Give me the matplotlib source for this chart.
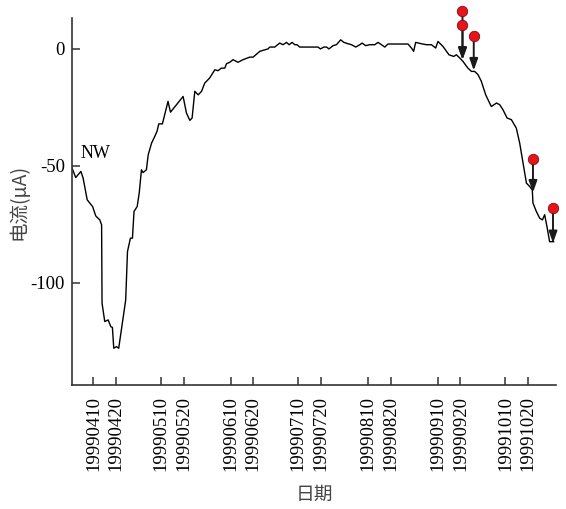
import matplotlib
matplotlib.use("Agg")
import matplotlib.pyplot as plt
import matplotlib.dates as mdates
import datetime as dt

plt.rcParams["axes.unicode_minus"] = False

base = dt.datetime(1999, 4, 10)

# days after 1999-04-10
day_offset = [-9.8, -7.9, -5.6, -4.6, -2.8, -1.6, -0.4, 1.0, 2.8, 3.6, 3.8, 5.0, 6.5, 7.7,
              8.4, 9.0, 10.2, 11.2, 14.3, 15.1, 16.4, 17.3, 18.0, 19.4, 20.3, 21.3, 22.0,
              23.5, 24.3, 25.8, 27.2, 28.2, 29.0, 30.6, 33.1, 34.2, 39.8, 41.3, 42.8, 43.8,
              45.0, 46.5, 48.0, 49.4, 51.6, 53.9, 55.3, 56.8, 58.3, 59.1, 60.5, 62.0, 64.2,
              66.4, 69.4, 70.9, 73.9, 77.5, 78.3, 80.5, 82.7, 84.2, 85.7, 86.9, 88.2, 89.4,
              90.4, 91.6, 99.7, 100.8, 102.3, 103.5, 104.6, 106.4, 107.9, 109.8, 111.2,
              113.1, 114.6, 116.5, 118.3, 119.3, 120.9, 122.7, 124.9, 126.4, 127.9, 129.4,
              130.8, 139.7, 141.2, 142.2, 143.1, 145.7, 147.9, 150.1, 152.0, 153.0, 155.2,
              157.9, 160.0, 161.2, 162.7, 164.1, 166.3, 167.9, 169.3, 170.8, 172.3, 174.2,
              176.7, 179.0, 180.4, 181.9, 183.7, 185.6, 187.8, 189.3, 190.8, 192.3, 193.7,
              194.9, 195.2, 196.7, 198.2, 199.4, 200.4, 201.4, 202.6, 204.4]
current = [-50.3, -55.0, -52.4, -55.3, -64.5, -66.0, -67.4, -71.4, -73.1, -75.2, -108.7,
           -116.5, -115.8, -118.7, -119.0, -127.9, -127.2, -127.9, -107.3, -86.6, -80.9,
           -80.9, -69.5, -67.4, -61.7, -51.7, -52.9, -51.7, -45.3, -40.3, -37.5, -35.3,
           -32.1, -32.1, -22.5, -27.1, -20.4, -27.5, -30.6, -29.6, -18.2, -19.7, -18.2,
           -14.7, -12.5, -9.0, -9.4, -8.3, -8.3, -6.4, -5.8, -4.7, -5.8, -4.7, -3.6, -3.6,
           -1.1, -0.1, 0.7, 0.7, 2.4, 1.7, 2.7, 1.7, 2.7, 1.7, 1.7, 0.7, 0.7, -0.1, 0.7,
           0.7, -0.1, 1.3, 1.7, 3.8, 2.7, 2.1, 1.7, 0.7, 1.7, 2.4, 1.3, 1.7, 1.7, 2.7, 1.7,
           0.7, 2.0, 2.0, 0.3, -1.1, 2.7, 2.1, 1.7, 1.7, 0.3, 3.1, 1.0, -2.6, -3.3, -2.6,
           -4.0, -5.4, -8.3, -9.7, -9.7, -11.1, -14.0, -19.7, -24.7, -23.2, -23.9, -26.1,
           -29.6, -30.3, -33.9, -40.3, -48.8, -57.4, -58.8, -60.3, -65.9, -69.5, -72.4,
           -73.1, -70.9, -75.9, -82.4, -82.4]

# event markers (red dots) and where their arrows point
event_day = [163.9, 163.9, 168.9, 195.2, 204.1]
event_top = [15.9, 10.3, 5.6, -47.1, -68.1]
event_tip = [-4.7, -4.7, -9.3, -61.4, -83.0]

tick_dates = ["19990410", "19990420", "19990510", "19990520", "19990610", "19990620",
              "19990710", "19990720", "19990810", "19990820", "19990910", "19990920",
              "19991010", "19991020"]

dates = [base + dt.timedelta(days=d) for d in day_offset]
ev_dates = [base + dt.timedelta(days=d) for d in event_day]

fig = plt.figure(figsize=(5.66, 5.09), dpi=100)
ax = fig.add_axes([0.127, 0.2436, 0.856, 0.721])

ax.plot(dates, current, color="black", lw=1.0)

for d, top, tip in zip(ev_dates, event_top, event_tip):
    ax.annotate("", xy=(d, tip), xytext=(d, top),
                arrowprops=dict(arrowstyle="-|>,head_length=0.7,head_width=0.25",
                                color="#1a1a1a", lw=1.4, shrinkA=0, shrinkB=0),
                annotation_clip=False)
ax.plot(ev_dates, event_top, "o", color="#e8141c", markeredgecolor="#7a1010",
        markeredgewidth=0.6, markersize=7.5, clip_on=False, zorder=5)

ax.text(base + dt.timedelta(days=-5.7), -48.5, "NW", family="Liberation Serif",
        fontsize=13, ha="left", va="bottom")

ax.set_xlim(base + dt.timedelta(days=-9.6), base + dt.timedelta(days=205.6))
ax.set_ylim(-143.6, 13.1)

ticks = [dt.datetime.strptime(s, "%Y%m%d") for s in tick_dates]
ax.set_xticks(ticks)
ax.set_xticklabels(tick_dates, rotation=90, family="Liberation Serif", fontsize=13.5)
ax.set_yticks([0, -50, -100])
ax.set_yticklabels(["0", "-50", "-100"], family="Liberation Serif", fontsize=13.5)

for side in ["top", "right"]:
    ax.spines[side].set_visible(False)
for side in ["left", "bottom"]:
    ax.spines[side].set_color("#333333")
    ax.spines[side].set_linewidth(1.2)
ax.tick_params(direction="in", length=6, width=1.1, color="#333333")
ax.tick_params(axis="x", pad=8)
ax.tick_params(axis="y", pad=5)

ax.set_xlabel("日期", family=["Noto Sans CJK SC", "DejaVu Sans"], fontsize=13.5,
              color="#444444", labelpad=9)
ax.set_ylabel("电流(μA)", family=["Noto Sans CJK SC", "DejaVu Sans"], fontsize=14,
              color="#444444", labelpad=1)

fig.savefig("out.png", dpi=100)
